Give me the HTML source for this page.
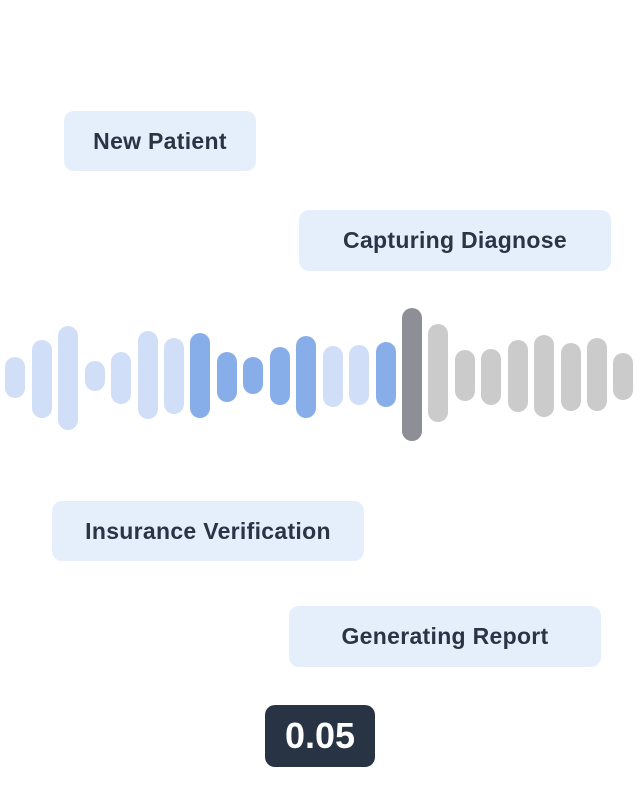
<!DOCTYPE html>
<html><head><style>
body{margin:0;width:640px;height:800px;background:#fff;position:relative;overflow:hidden;font-family:"Liberation Sans",sans-serif}
.p{position:absolute;background:#e5effc;border-radius:10px;color:#2b3445;font-weight:bold;font-size:23px;display:flex;align-items:center;justify-content:center;letter-spacing:0.3px}
.b{position:absolute;width:20px;border-radius:10px}
.l{background:#d0dff7}.m{background:#88aee9}.d{background:#8e8f96}.g{background:#cbcbcb}
</style></head><body>
<div class="p" style="left:64px;top:111px;width:192px;height:60px">New Patient</div>
<div class="p" style="left:299px;top:210px;width:312px;height:61px">Capturing Diagnose</div>
<div class="p" style="left:52px;top:501px;width:312px;height:60px">Insurance Verification</div>
<div class="p" style="left:289px;top:606px;width:312px;height:61px">Generating Report</div>
<div style="position:absolute;left:265px;top:705px;width:110px;height:62px;background:#283444;border-radius:10px;color:#fff;font-weight:bold;font-size:36px;display:flex;align-items:center;justify-content:center">0.05</div>
<div class="b l" style="left:5px;top:357px;height:41px"></div>
<div class="b l" style="left:32px;top:340px;height:78px"></div>
<div class="b l" style="left:58px;top:326px;height:104px"></div>
<div class="b l" style="left:85px;top:361px;height:30px"></div>
<div class="b l" style="left:111px;top:352px;height:52px"></div>
<div class="b l" style="left:138px;top:331px;height:88px"></div>
<div class="b l" style="left:164px;top:338px;height:76px"></div>
<div class="b m" style="left:190px;top:333px;height:85px"></div>
<div class="b m" style="left:217px;top:352px;height:50px"></div>
<div class="b m" style="left:243px;top:357px;height:37px"></div>
<div class="b m" style="left:270px;top:347px;height:58px"></div>
<div class="b m" style="left:296px;top:336px;height:82px"></div>
<div class="b l" style="left:323px;top:346px;height:61px"></div>
<div class="b l" style="left:349px;top:345px;height:60px"></div>
<div class="b m" style="left:376px;top:342px;height:65px"></div>
<div class="b d" style="left:402px;top:308px;height:133px"></div>
<div class="b g" style="left:428px;top:324px;height:98px"></div>
<div class="b g" style="left:455px;top:350px;height:51px"></div>
<div class="b g" style="left:481px;top:349px;height:56px"></div>
<div class="b g" style="left:508px;top:340px;height:72px"></div>
<div class="b g" style="left:534px;top:335px;height:82px"></div>
<div class="b g" style="left:561px;top:343px;height:68px"></div>
<div class="b g" style="left:587px;top:338px;height:73px"></div>
<div class="b g" style="left:613px;top:353px;height:47px"></div>
</body></html>
